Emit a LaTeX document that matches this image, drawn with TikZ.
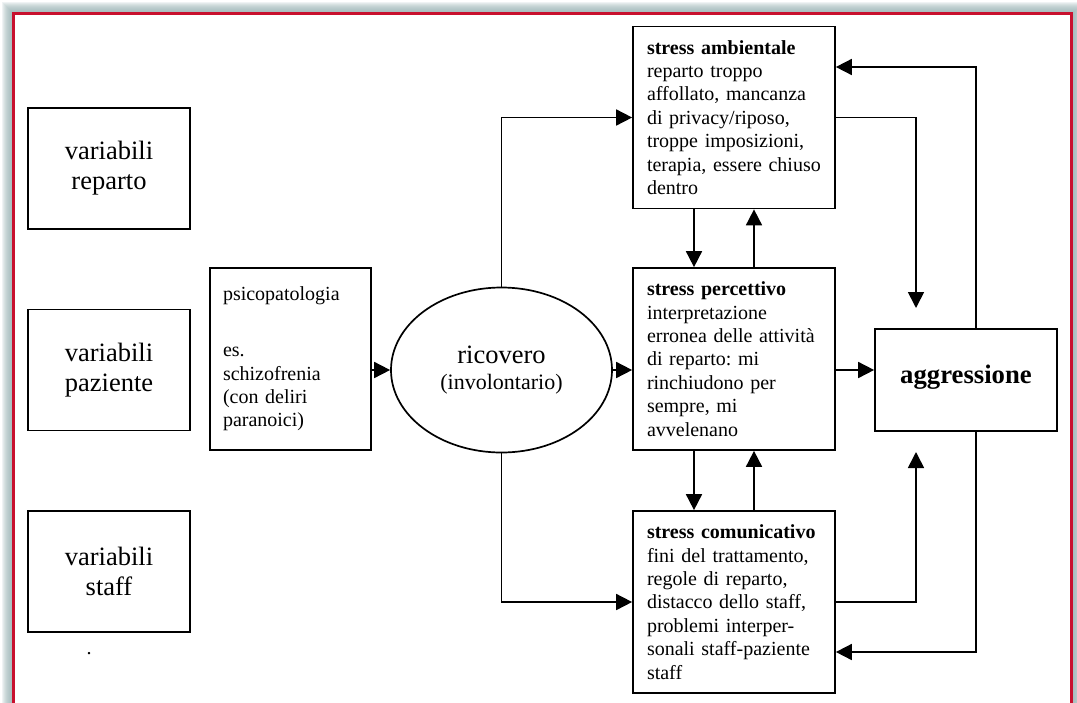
\documentclass[tikz,border=0pt]{standalone}
\usepackage{fontspec}
\setmainfont{Liberation Serif}
\usetikzlibrary{shapes.geometric,arrows.meta}
\definecolor{framered}{RGB}{200,16,46}
\definecolor{glow}{RGB}{150,176,178}
\frenchspacing

\begin{document}
\begin{tikzpicture}[x=1pt,y=-1pt,
    varbox/.style={minimum width=162pt,minimum height=121pt,align=center,
        font=\fontsize{26.5}{30}\selectfont},
    stressbox/.style={text width=174pt,inner xsep=14pt,inner ysep=0pt,minimum height=182pt,
        align=left,font=\fontsize{20}{23.4}\selectfont}]
        \useasboundingbox (0,0) rectangle (1077,702);
        % frame with soft shadow
        \foreach \w in {2,4,...,24}
                \draw[glow,opacity=0.15,line width=\w pt] (13.5,13.5) rectangle (1071.5,730);
        \fill[white] (13.5,13.5) rectangle (1071.5,730);
        \draw[framered,line width=3pt] (13.5,13.5) rectangle (1071.5,730);

        \begin{scope}[every node/.style={draw,line width=1.7pt}]
                \node[varbox] (rep) at (109,168.5) {variabili\\reparto};
                \node[varbox] (paz) at (109,370) {variabili\\paziente};
                \node[varbox] (sta) at (109,571.5) {variabili\\staff};

                \node[stressbox,text width=135pt,inner xsep=13pt] (psi) at (290.5,359)
                        {psicopatologia\\[32.6pt]es.\\schizofrenia\\(con deliri\\paranoici)};
                \node[ellipse,inner sep=0pt,minimum width=221pt,minimum height=165pt,align=center,
                        font=\fontsize{22}{26}\selectfont] (ric) at (501.5,370)
                        {{\fontsize{26.5}{26}\selectfont ricovero}\\(involontario)};

                \node[stressbox] (amb) at (734,117.5) {\textbf{stress ambientale}\\reparto troppo\\affollato, mancanza\\di privacy/riposo,\\troppe imposizioni,\\terapia, essere chiuso\\dentro};
                \node[stressbox] (per) at (734,359) {\textbf{stress percettivo}\\interpretazione\\erronea delle attività\\di reparto: mi\\rinchiudono per\\sempre, mi\\avvelenano};
                \node[stressbox] (com) at (734,602) {\textbf{stress comunicativo}\\fini del trattamento,\\regole di reparto,\\distacco dello staff,\\problemi interper-\\sonali staff-paziente\\staff};

                \node[minimum width=182pt,minimum height=102pt,text depth=12pt,
                        font=\bfseries\fontsize{26.7}{30}\selectfont] (agg) at (966,380) {aggressione};
        \end{scope}
        \node[font=\fontsize{20}{24}\selectfont,anchor=base] (dot) at (89,654) {.};

        \coordinate (c1) at (916,308);
        \coordinate (c2) at (916,452);
        \coordinate (t1) at (976,67);
        \coordinate (t2) at (976,652);

        \begin{scope}[every path/.style={line width=1.7pt,-{Triangle[length=16pt,width=16pt]}}]
                \path (psi.east |- ric) edge (ric.west);
                \path (ric.east) edge (ric.east -| per.west);
                \path (per.east |- ric) edge (agg.west |- ric);
                \draw (ric.north) |- (amb.west);
                \draw (ric.south) |- (com.west);

                \path ([xshift=-40pt]amb.south) edge ([xshift=-40pt]per.north);
                \path ([xshift=20pt]per.north) edge ([xshift=20pt]amb.south);
                \path ([xshift=-40pt]per.south) edge ([xshift=-40pt]com.north);
                \path ([xshift=20pt]com.north) edge ([xshift=20pt]per.south);

                \draw (amb.east) -| (c1);
                \draw (com.east) -| (c2);
                \draw (agg.north -| t1) |- (amb.east |- t1);
                \draw (agg.south -| t2) |- (com.east |- t2);
        \end{scope}
\end{tikzpicture}
\end{document}
